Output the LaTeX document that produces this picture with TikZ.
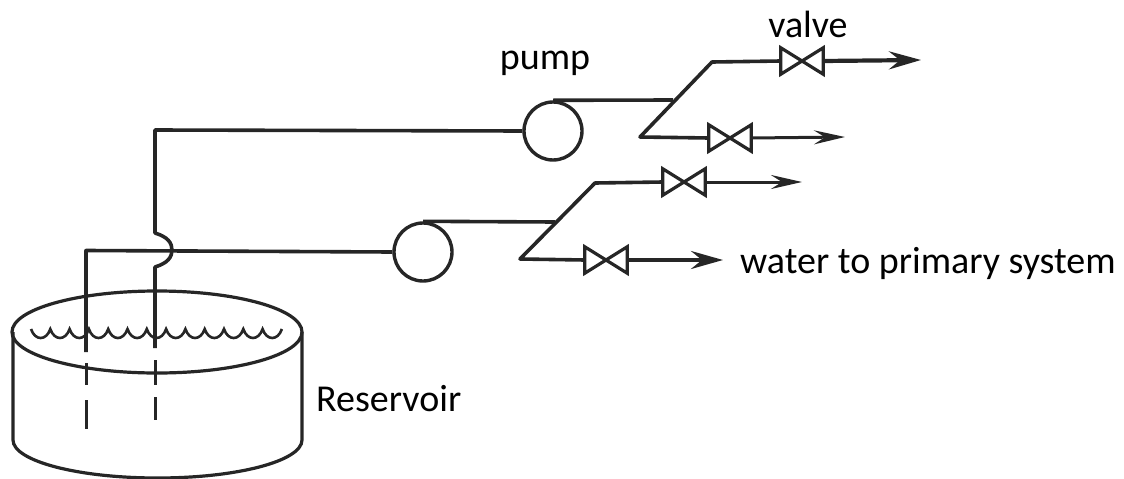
\documentclass[tikz,border=0pt]{standalone}
\usepackage{fontspec}
\setmainfont{Carlito}
\usetikzlibrary{arrows.meta}
\definecolor{ink}{HTML}{262626}
\tikzset{
  pipe/.style={draw=ink,line width=3.6pt,line join=round},
  thinpipe/.style={draw=ink,line width=3pt,line join=round},
  pumpnode/.style={circle,draw=ink,line width=3.4pt,minimum size=58pt,inner sep=0pt},
  valvenode/.style={rectangle,minimum width=42pt,minimum height=26pt,inner sep=0pt},
  bow/.style={draw=ink,line width=3.2pt,line join=miter},
  label/.style={text=black,font=\fontsize{38}{44}\selectfont,inner sep=0pt},
  tank/.style={draw=ink,line width=3.2pt},
  bigtip/.style={-{Stealth[length=32pt,width=18pt,inset=11pt]}},
  smalltip/.style={-{Stealth[length=31pt,width=14pt,inset=11pt]}},
  x=1pt,y=-1pt
}
\begin{document}
\begin{tikzpicture}
\useasboundingbox (0,0) rectangle (1124,479);
% reservoir
\draw[tank] (157,332) ellipse [x radius=145,y radius=41];
\draw[tank] (13,332) -- (13,440) arc [start angle=180,end angle=0,x radius=144.5,y radius=38] -- (302,332);
% water surface
\draw[draw=ink,line width=2.6pt]
  (31,329) \foreach \i in {0,...,12}{ .. controls +(4,12) and +(-4,12) .. ++(19.3,0) };
% nodes
\node[pumpnode] (p1) at (553,131) {};
\node[pumpnode] (p2) at (423,252) {};
\node[valvenode] (v1) at (802,61) {};
\node[valvenode] (v2) at (730,138) {};
\node[valvenode] (v3) at (684,182) {};
\node[valvenode] (v4) at (606,260) {};
\coordinate (e1) at (921,60);
\coordinate (e2) at (845,137);
\coordinate (e3) at (802,182);
\coordinate (e4) at (723,260);
\coordinate (a1) at (712,62);
\coordinate (b1) at (640,137);
\coordinate (j1) at (673,100);
\coordinate (a2) at (595,183);
\coordinate (b2) at (520,259);
\coordinate (j2) at (555,222);
\coordinate (c1) at (155,130);
\coordinate (c2) at (155,233);
\coordinate (c3) at (155,267);
\coordinate (c4) at (155,348);
\coordinate (c5) at (86,250.5);
\coordinate (c6) at (86,352);
\coordinate (d1) at (155,360);
\coordinate (d2) at (155,385);
\coordinate (d3) at (155,397);
\coordinate (d4) at (155,420);
\coordinate (f1) at (86,363);
\coordinate (f2) at (86,385);
\coordinate (f3) at (86,400);
\coordinate (f4) at (86,429);
\coordinate (k) at (172,250);
% suction pipes
\draw[pipe] (c4) -- (c3) .. controls +(13,-4) and +(0,7) .. (k) .. controls +(0,-7) and +(13,4) .. (c2) -- (c1) -- (p1.west);
\draw[pipe] (c6) -- (c5) -- (p2.west);
\draw[thinpipe] (d1) -- (d2) (d3) -- (d4) (f1) -- (f2) (f3) -- (f4);
% discharge
\draw[pipe] (p1.north) -- (j1);
\draw[pipe] (p2.north) -- (j2);
\draw[pipe] (v1.west) -- (a1) -- (b1) -- (v2.west);
\draw[pipe] (v3.west) -- (a2) -- (b2) -- (v4.west);
\draw[draw=ink,line width=4.2pt,bigtip] (v1.east) -- (e1);
\draw[thinpipe,smalltip] (v2.east) -- (e2);
\draw[thinpipe,smalltip] (v3.east) -- (e3);
\draw[draw=ink,line width=3.8pt,bigtip] (v4.east) -- (e4);
% valves
\foreach \v in {v1,v2,v3,v4}
  \draw[bow] (\v.north west) -- (\v.south east) -- (\v.north east) -- (\v.south west) -- cycle;
% labels
\node[label] (tp) at (545,63) {pump};
\node[label] (tv) at (808,24) {valve};
\node[label,anchor=west] (tw) at (740,263) {water to primary system};
\node[label,anchor=west] (tr) at (316,399) {Reservoir};
\end{tikzpicture}
\end{document}
